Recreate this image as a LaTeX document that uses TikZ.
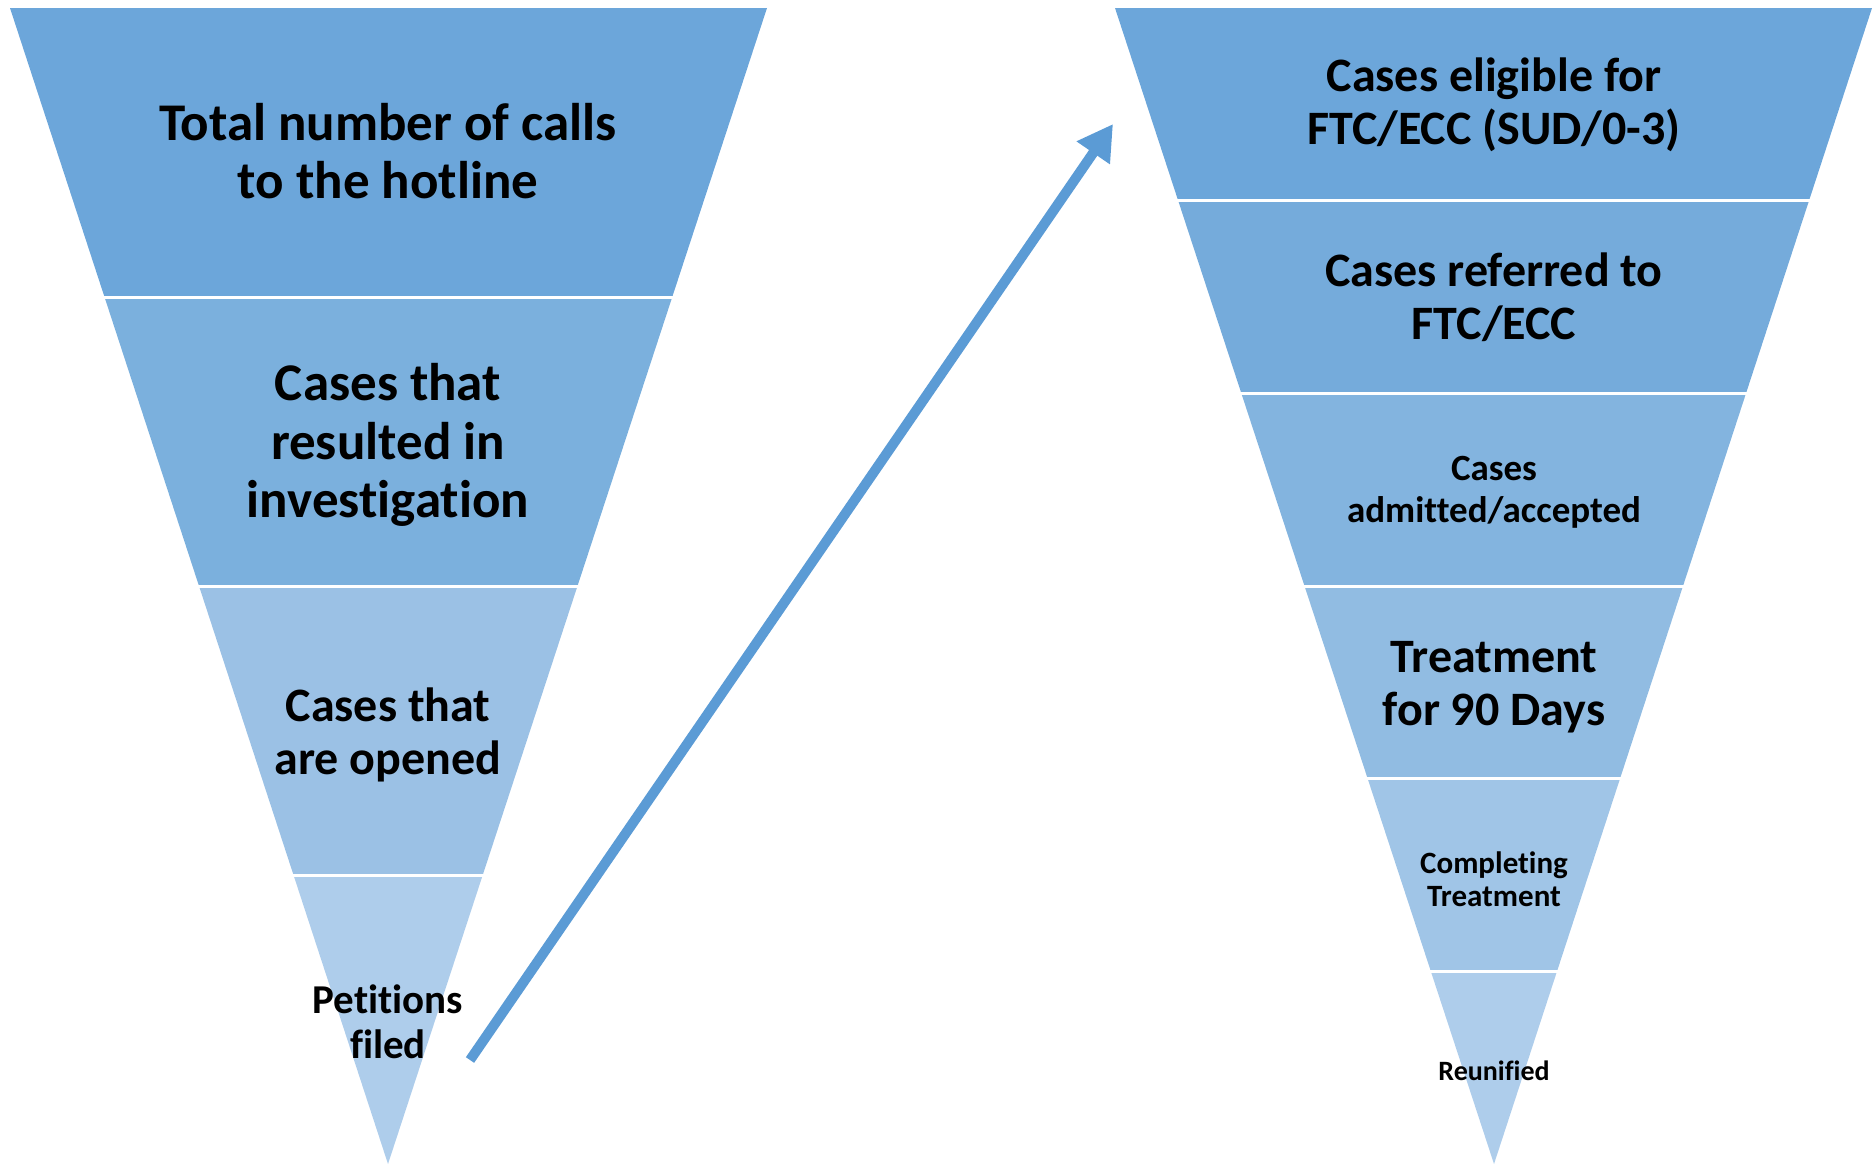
\documentclass[tikz,border=0pt]{standalone}
\usepackage{fontspec}
\setmainfont{Carlito}[Ligatures={NoCommon}]
\usetikzlibrary{calc,arrows.meta}
\definecolor{fa}{HTML}{6CA6DA}
\definecolor{fb}{HTML}{7BB0DD}
\definecolor{fc}{HTML}{9BC1E5}
\definecolor{fd}{HTML}{AECDEB}
\definecolor{ra}{HTML}{6CA6DA}
\definecolor{rb}{HTML}{75ABDB}
\definecolor{rc}{HTML}{83B4DF}
\definecolor{rd}{HTML}{91BCE2}
\definecolor{re}{HTML}{A0C5E7}
\definecolor{rf}{HTML}{AECDEB}
\definecolor{arrowblue}{HTML}{5B9BD5}
\tikzset{
  lbl/.style={align=center, text=black, inner sep=0pt, font=\bfseries},
  sep/.style={draw=white, line width=3pt},
  flowarrow/.style={draw=arrowblue, line width=10pt, -{Triangle[length=35pt,width=38pt]}},
}
\begin{document}
\begin{tikzpicture}[x=1pt,y=-1pt]
\useasboundingbox (0,0) rectangle (1873,1165);
% left funnel
\coordinate (LTL) at (10,8);
\coordinate (LTR) at (767,8);
\coordinate (LA) at (388,1164);
\foreach \a/\b/\c in {0/0.25/fa,0.25/0.5/fb,0.5/0.75/fc,0.75/1/fd}{
  \fill[\c] ($(LTL)!\a!(LA)$) -- ($(LTR)!\a!(LA)$) -- ($(LTR)!\b!(LA)$) -- ($(LTL)!\b!(LA)$) -- cycle;
}
\foreach \a in {0.25,0.5,0.75}{
  \draw[sep] ($(LTL)!\a!(LA)+(-3,0)$) -- ($(LTR)!\a!(LA)+(3,0)$);
}
% right funnel
\coordinate (RTL) at (1115,8);
\coordinate (RTR) at (1872,8);
\coordinate (RA) at (1494,1164);
\foreach \a/\b/\c in {0/0.166667/ra,0.166667/0.333333/rb,0.333333/0.5/rc,0.5/0.666667/rd,0.666667/0.833333/re,0.833333/1/rf}{
  \fill[\c] ($(RTL)!\a!(RA)$) -- ($(RTR)!\a!(RA)$) -- ($(RTR)!\b!(RA)$) -- ($(RTL)!\b!(RA)$) -- cycle;
}
\foreach \a in {0.166667,0.333333,0.5,0.666667,0.833333}{
  \draw[sep] ($(RTL)!\a!(RA)+(-3,0)$) -- ($(RTR)!\a!(RA)+(3,0)$);
}
% left labels
\node[lbl, font=\bfseries\fontsize{53}{58.5}\selectfont] (l1) at (388,151) {Total number of calls\\to the hotline};
\node[lbl, font=\bfseries\fontsize{53}{58.5}\selectfont] (l2) at (388,445) {Cases that\\resulted in\\investigation};
\node[lbl, font=\bfseries\fontsize{48}{52.5}\selectfont] (l3) at (388,735) {Cases that\\are opened};
\node[lbl, font=\bfseries\fontsize{41}{45}\selectfont] (l4) at (388,1022) {Petitions\\filed};
% right labels
\node[lbl, font=\bfseries\fontsize{48}{52.5}\selectfont] (r1) at (1494,105) {Cases eligible for\\FTC/ECC (SUD/0-3)};
\node[lbl, font=\bfseries\fontsize{48}{52.5}\selectfont] (r2) at (1494,297) {Cases referred to\\FTC/ECC};
\node[lbl, font=\bfseries\fontsize{37}{42}\selectfont] (r3) at (1494,492) {Cases\\admitted/accepted};
\node[lbl, font=\bfseries\fontsize{48}{52.5}\selectfont] (r4) at (1494,687) {Treatment\\for 90 Days};
\node[lbl, font=\bfseries\fontsize{31}{33.5}\selectfont] (r5) at (1494,879) {Completing\\Treatment};
\node[lbl, font=\bfseries\fontsize{28}{30}\selectfont] (r6) at (1494,1071) {Reunified};
% arrow
\coordinate (a0) at (470,1060);
\coordinate (a1) at (1113,124);
\draw[flowarrow] (a0) -- (a1);
\end{tikzpicture}
\end{document}
